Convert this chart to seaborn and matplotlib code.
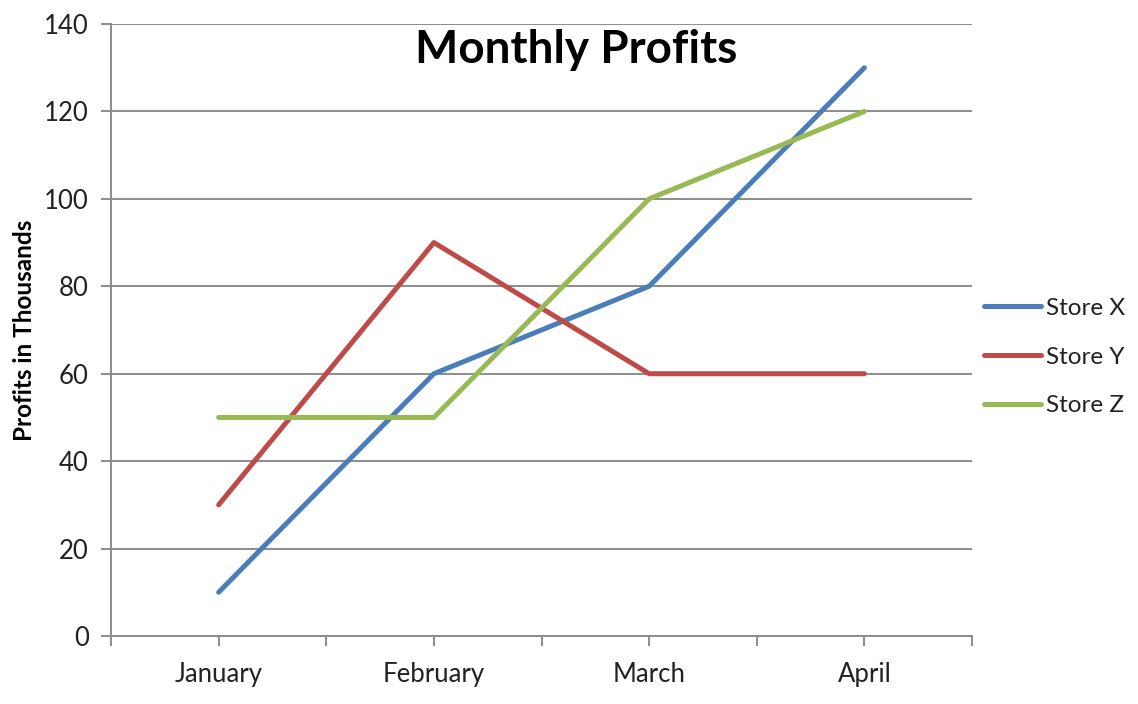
import matplotlib
matplotlib.use("Agg")
import matplotlib.pyplot as plt
import seaborn as sns
import pandas as pd
from matplotlib.ticker import FixedLocator

months = ["January", "February", "March", "April"]
store_x = [10, 60, 80, 130]
store_y = [30, 90, 60, 60]
store_z = [50, 50, 100, 120]
series_names = ["Store X", "Store Y", "Store Z"]
colors = ["#4A7EBB", "#BE4B48", "#98B954"]

rows = []
for name, vals in zip(series_names, [store_x, store_y, store_z]):
    for m, v in zip(months, vals):
        rows.append({"Month": m, "Profit": v, "Store": name})
df = pd.DataFrame(rows)

sns.set_theme(style="white")
plt.rcParams["font.family"] = ["Lato", "DejaVu Sans"]

fig = plt.figure(figsize=(11.38, 7.04), dpi=100)
ax = fig.add_axes([111/1138, 1-636/704, (972-111)/1138, (636-24)/704])

sns.lineplot(data=df, x="Month", y="Profit", hue="Store", palette=colors,
             linewidth=3.6, ax=ax, sort=False, legend=True)

ax.set_xlim(-0.5, 3.5)
ax.set_ylim(0, 140)
ax.set_yticks(range(0, 141, 20))
ax.yaxis.grid(True, color="#8C8C8C", linewidth=1.4)
ax.set_axisbelow(True)
ax.xaxis.set_minor_locator(FixedLocator([-0.5, 0.5, 1.5, 2.5, 3.5]))
for s in ["top", "right"]:
    ax.spines[s].set_visible(False)
for s in ["left", "bottom"]:
    ax.spines[s].set_color("#8C8C8C")
    ax.spines[s].set_linewidth(1.4)
ax.tick_params(axis="both", which="both", direction="out", length=7,
               width=1.4, color="#8C8C8C", labelsize=18.5, labelcolor="#222222",
               left=True, bottom=True)
ax.tick_params(axis="x", pad=12)
ax.tick_params(axis="y", pad=9)
ax.set_xlabel("")
ax.set_ylabel("Profits in Thousands", fontsize=17.5, fontweight="bold",
              color="black", labelpad=6)

handles, labels = ax.get_legend_handles_labels()
ax.get_legend().remove()
leg = fig.legend(handles, labels, loc="center left",
                 bbox_to_anchor=(984/1138, 1-357/704), frameon=False,
                 fontsize=17.5, handlelength=2.35, handletextpad=0.22,
                 labelspacing=1.15, borderpad=0, borderaxespad=0)
for t in leg.get_texts():
    t.set_color("#222222")

fig.text(576/1138, 1-50/704, "Monthly Profits", ha="center", va="center",
         fontsize=33, fontweight="bold", color="black")

fig.savefig("out.png", dpi=100)
